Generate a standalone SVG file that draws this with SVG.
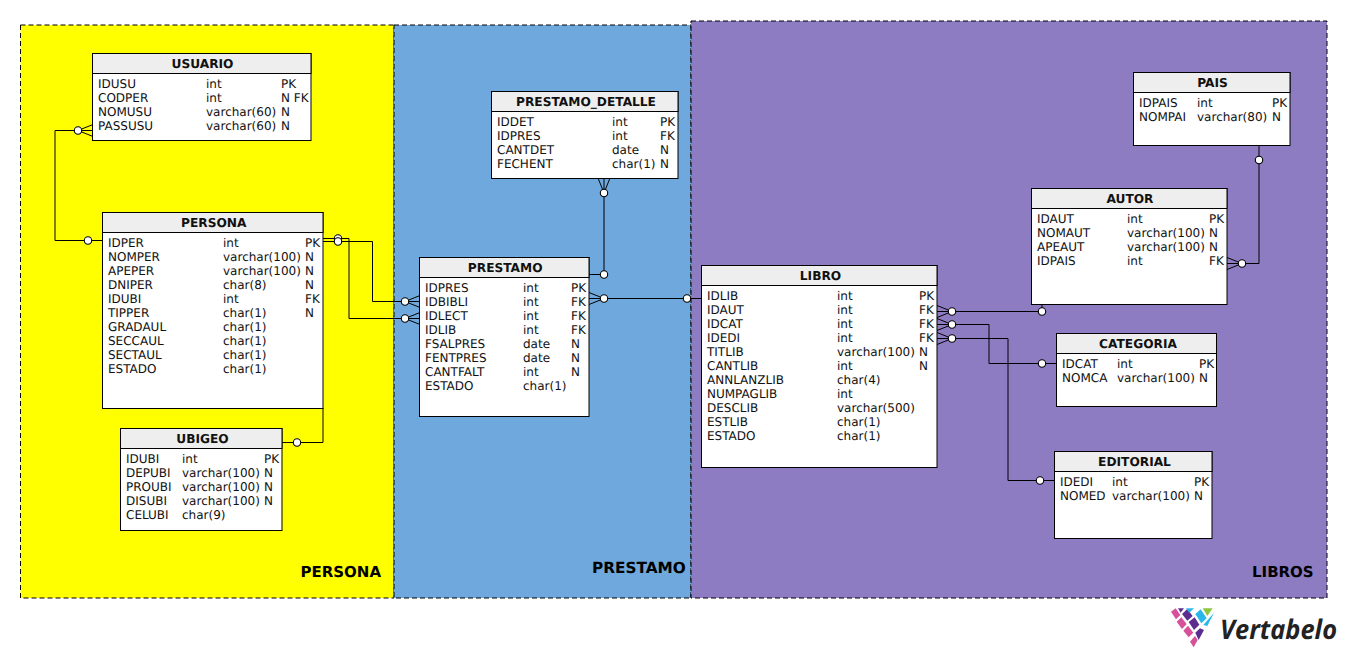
<svg xmlns="http://www.w3.org/2000/svg" width="1347" height="658" viewBox="0 0 1347 658">
<style>
text{font-family:"DejaVu Sans",sans-serif;font-size:12px;fill:#111;text-rendering:geometricPrecision}
.t{font-weight:bold;text-anchor:middle;font-size:12.2px}
.r{font-weight:bold;font-size:15px;fill:#000}
.b{fill:#fff;stroke:#000;stroke-width:1}
.h{fill:#eee;stroke:#000;stroke-width:1}
.reg{stroke:#000;stroke-width:1;stroke-dasharray:5 3}
#connectors path{fill:none;stroke:#000;stroke-width:1}
#connectors circle{fill:#fff;stroke:#000;stroke-width:1.1;r:3.7px}
</style>
<rect fill="#fff" width="1347" height="658"/>
<g id="region-persona"><rect class="reg" x="20.500" y="25" width="373.500" height="573" fill="#ffff00"/><text class="r" x="300.500" y="577">PERSONA</text></g>
<g id="region-prestamo"><rect class="reg" x="394" y="25" width="297" height="573" fill="#6fa8dc"/><text class="r" x="592" y="573" style="font-size:15.3px">PRESTAMO</text></g>
<g id="region-libros"><rect class="reg" x="691" y="21" width="636" height="577" fill="#8e7cc3"/><text class="r" x="1252" y="577">LIBROS</text></g>

<g id="connectors">
<path d="M93 124.500L78 130.500L93 136.500M93 130.500H55V240.500H103"/><circle cx="78" cy="130.500" r="3.700"/><circle cx="88" cy="240.500" r="3.700"/>
<path d="M323 238.500H349V318.500H420M405 318.500L420 312.500M405 318.500L420 324.500"/><circle cx="338" cy="238.500" r="3.700"/><circle cx="405" cy="318.500" r="3.700"/>
<path d="M323 241.500H372.500V301.500H420M405 301.500L420 295.500M405 301.500L420 307.500"/><circle cx="338" cy="241.500" r="3.700"/><circle cx="405" cy="301.500" r="3.700"/>
<path d="M282 442.500H323V408"/><circle cx="297" cy="442.500" r="3.700"/>
<path d="M598 178L604 193L610 178M604 178V274.500H589"/><circle cx="604" cy="193" r="3.700"/><circle cx="604" cy="274.500" r="3.700"/>
<path d="M589 292.500L604 298.500L589 304.500M589 298.500H702"/><circle cx="604" cy="298.500" r="3.700"/><circle cx="687" cy="298.500" r="3.700"/>
<path d="M937 305.500L952 311.500L937 317.500M937 311.500H1042V304"/><circle cx="952" cy="311.500" r="3.700"/><circle cx="1042" cy="311.500" r="3.700"/>
<path d="M937 318.500L952 324.500L937 330.500M937 324.500H989V363.500H1057"/><circle cx="952" cy="324.500" r="3.700"/><circle cx="1042" cy="363.500" r="3.700"/>
<path d="M937 332.500L952 338.500L937 344.500M937 338.500H1008V480.500H1055"/><circle cx="952" cy="338.500" r="3.700"/><circle cx="1040" cy="480.500" r="3.700"/>
<path d="M1227 257.500L1242 263.500L1227 269.500M1227 263.500H1259V145"/><circle cx="1259" cy="160" r="3.700"/><circle cx="1242" cy="263.500" r="3.700"/>
</g>

<g id="usuario"><rect class="b" x="92.500" y="53.500" width="218.500" height="87"/><rect class="h" x="92.500" y="53.500" width="218.500" height="20"/><text class="t" x="202.500" y="67.500">USUARIO</text>
<text x="98" y="87.500">IDUSU</text><text x="206" y="87.500">int</text><text x="281" y="87.500">PK</text>
<text x="98" y="101.500">CODPER</text><text x="206" y="101.500">int</text><text x="281" y="101.500">N FK</text>
<text x="98" y="115.500">NOMUSU</text><text x="206" y="115.500">varchar(60)</text><text x="281" y="115.500">N</text>
<text x="98" y="129.500">PASSUSU</text><text x="206" y="129.500">varchar(60)</text><text x="281" y="129.500">N</text></g>

<g id="persona"><rect class="b" x="102.500" y="212.500" width="220.500" height="196"/><rect class="h" x="102.500" y="212.500" width="220.500" height="20"/><text class="t" x="213.800" y="226.500">PERSONA</text>
<text x="108" y="246.500">IDPER</text><text x="223" y="246.500">int</text><text x="305" y="246.500">PK</text>
<text x="108" y="260.500">NOMPER</text><text x="223" y="260.500">varchar(100)</text><text x="305" y="260.500">N</text>
<text x="108" y="274.500">APEPER</text><text x="223" y="274.500">varchar(100)</text><text x="305" y="274.500">N</text>
<text x="108" y="288.500">DNIPER</text><text x="223" y="288.500">char(8)</text><text x="305" y="288.500">N</text>
<text x="108" y="302.500">IDUBI</text><text x="223" y="302.500">int</text><text x="305" y="302.500">FK</text>
<text x="108" y="316.500">TIPPER</text><text x="223" y="316.500">char(1)</text><text x="305" y="316.500">N</text>
<text x="108" y="330.500">GRADAUL</text><text x="223" y="330.500">char(1)</text>
<text x="108" y="344.500">SECCAUL</text><text x="223" y="344.500">char(1)</text>
<text x="108" y="358.500">SECTAUL</text><text x="223" y="358.500">char(1)</text>
<text x="108" y="372.500">ESTADO</text><text x="223" y="372.500">char(1)</text></g>

<g id="ubigeo"><rect class="b" x="120.500" y="428.500" width="161.500" height="102"/><rect class="h" x="120.500" y="428.500" width="161.500" height="20"/><text class="t" x="202.500" y="442.500">UBIGEO</text>
<text x="126" y="462.500">IDUBI</text><text x="182" y="462.500">int</text><text x="264" y="462.500">PK</text>
<text x="126" y="476.500">DEPUBI</text><text x="182" y="476.500">varchar(100)</text><text x="264" y="476.500">N</text>
<text x="126" y="490.500">PROUBI</text><text x="182" y="490.500">varchar(100)</text><text x="264" y="490.500">N</text>
<text x="126" y="504.500">DISUBI</text><text x="182" y="504.500">varchar(100)</text><text x="264" y="504.500">N</text>
<text x="126" y="518.500">CELUBI</text><text x="182" y="518.500">char(9)</text></g>

<g id="prestamo_detalle"><rect class="b" x="491.500" y="91.500" width="186.500" height="87"/><rect class="h" x="491.500" y="91.500" width="186.500" height="20"/><text class="t" x="586" y="105.500">PRESTAMO_DETALLE</text>
<text x="497" y="125.500">IDDET</text><text x="612" y="125.500">int</text><text x="660" y="125.500">PK</text>
<text x="497" y="139.500">IDPRES</text><text x="612" y="139.500">int</text><text x="660" y="139.500">FK</text>
<text x="497" y="153.500">CANTDET</text><text x="612" y="153.500">date</text><text x="660" y="153.500">N</text>
<text x="497" y="167.500">FECHENT</text><text x="612" y="167.500">char(1)</text><text x="660" y="167.500">N</text></g>

<g id="prestamo"><rect class="b" x="419.500" y="257.500" width="169.500" height="159"/><rect class="h" x="419.500" y="257.500" width="169.500" height="20"/><text class="t" x="505.200" y="271.500">PRESTAMO</text>
<text x="425" y="291.500">IDPRES</text><text x="523" y="291.500">int</text><text x="571" y="291.500">PK</text>
<text x="425" y="305.500">IDBIBLI</text><text x="523" y="305.500">int</text><text x="571" y="305.500">FK</text>
<text x="425" y="319.500">IDLECT</text><text x="523" y="319.500">int</text><text x="571" y="319.500">FK</text>
<text x="425" y="333.500">IDLIB</text><text x="523" y="333.500">int</text><text x="571" y="333.500">FK</text>
<text x="425" y="347.500">FSALPRES</text><text x="523" y="347.500">date</text><text x="571" y="347.500">N</text>
<text x="425" y="361.500">FENTPRES</text><text x="523" y="361.500">date</text><text x="571" y="361.500">N</text>
<text x="425" y="375.500">CANTFALT</text><text x="523" y="375.500">int</text><text x="571" y="375.500">N</text>
<text x="425" y="389.500">ESTADO</text><text x="523" y="389.500">char(1)</text></g>

<g id="libro"><rect class="b" x="701.500" y="265.500" width="235.500" height="202"/><rect class="h" x="701.500" y="265.500" width="235.500" height="20"/><text class="t" x="820.500" y="279.500">LIBRO</text>
<text x="707" y="299.500">IDLIB</text><text x="837" y="299.500">int</text><text x="919" y="299.500">PK</text>
<text x="707" y="313.500">IDAUT</text><text x="837" y="313.500">int</text><text x="919" y="313.500">FK</text>
<text x="707" y="327.500">IDCAT</text><text x="837" y="327.500">int</text><text x="919" y="327.500">FK</text>
<text x="707" y="341.500">IDEDI</text><text x="837" y="341.500">int</text><text x="919" y="341.500">FK</text>
<text x="707" y="355.500">TITLIB</text><text x="837" y="355.500">varchar(100)</text><text x="919" y="355.500">N</text>
<text x="707" y="369.500">CANTLIB</text><text x="837" y="369.500">int</text><text x="919" y="369.500">N</text>
<text x="707" y="383.500">ANNLANZLIB</text><text x="837" y="383.500">char(4)</text>
<text x="707" y="397.500">NUMPAGLIB</text><text x="837" y="397.500">int</text>
<text x="707" y="411.500">DESCLIB</text><text x="837" y="411.500">varchar(500)</text>
<text x="707" y="425.500">ESTLIB</text><text x="837" y="425.500">char(1)</text>
<text x="707" y="439.500">ESTADO</text><text x="837" y="439.500">char(1)</text></g>

<g id="pais"><rect class="b" x="1133.500" y="72.500" width="156.500" height="73"/><rect class="h" x="1133.500" y="72.500" width="156.500" height="20"/><text class="t" x="1212.500" y="86.500">PAIS</text>
<text x="1139" y="106.500">IDPAIS</text><text x="1197" y="106.500">int</text><text x="1272" y="106.500">PK</text>
<text x="1139" y="120.500">NOMPAI</text><text x="1197" y="120.500">varchar(80)</text><text x="1272" y="120.500">N</text></g>

<g id="autor"><rect class="b" x="1031.500" y="188.500" width="195.500" height="116"/><rect class="h" x="1031.500" y="188.500" width="195.500" height="20"/><text class="t" x="1130" y="202.500">AUTOR</text>
<text x="1037" y="222.500">IDAUT</text><text x="1127" y="222.500">int</text><text x="1209" y="222.500">PK</text>
<text x="1037" y="236.500">NOMAUT</text><text x="1127" y="236.500">varchar(100)</text><text x="1209" y="236.500">N</text>
<text x="1037" y="250.500">APEAUT</text><text x="1127" y="250.500">varchar(100)</text><text x="1209" y="250.500">N</text>
<text x="1037" y="264.500">IDPAIS</text><text x="1127" y="264.500">int</text><text x="1209" y="264.500">FK</text></g>

<g id="categoria"><rect class="b" x="1056.500" y="333.500" width="160" height="73"/><rect class="h" x="1056.500" y="333.500" width="160" height="20"/><text class="t" x="1138" y="347.500">CATEGORIA</text>
<text x="1062" y="367.500">IDCAT</text><text x="1117" y="367.500">int</text><text x="1199" y="367.500">PK</text>
<text x="1062" y="381.500">NOMCA</text><text x="1117" y="381.500">varchar(100)</text><text x="1199" y="381.500">N</text></g>

<g id="editorial"><rect class="b" x="1054.500" y="451.500" width="157.500" height="87"/><rect class="h" x="1054.500" y="451.500" width="157.500" height="20"/><text class="t" x="1134.500" y="465.500">EDITORIAL</text>
<text x="1060" y="485.500">IDEDI</text><text x="1112" y="485.500">int</text><text x="1194" y="485.500">PK</text>
<text x="1060" y="499.500">NOMED</text><text x="1112" y="499.500">varchar(100)</text><text x="1194" y="499.500">N</text></g>

<g id="logo">
<g transform="translate(1150 590) scale(.3333)">
<polygon fill="#d6509a" points="63,65 77,55 91,75 78,88"/>
<polygon fill="#5c2d91" points="84,55 102,55 92,68"/>
<polygon fill="#5c2d91" points="96,72 112,57 128,78 112,92"/>
<polygon fill="#29b6e8" points="108,55 132,55 118,68"/>
<polygon fill="#d6509a" points="80,95 94,82 110,102 96,117"/>
<polygon fill="#5c2d91" points="116,96 134,82 148,104 132,120"/>
<polygon fill="#29b6e8" points="136,72 152,58 170,85 154,100"/>
<polygon fill="#8dc63f" points="158,55 188,55 172,78"/>
<polygon fill="#29b6e8" points="160,105 192,68 172,108"/>
<polygon fill="#d6509a" points="100,122 114,107 130,128 116,142"/>
<polygon fill="#5c2d91" points="136,128 150,115 162,120 146,150"/>
<polygon fill="#d6509a" points="120,155 135,138 143,150 131,172"/>
</g>
<text x="1220" y="638.500" textLength="117" lengthAdjust="spacingAndGlyphs" style="font-family:'Open Sans',sans-serif;font-size:27px;font-style:italic;font-weight:700;fill:#222">Vertabelo</text>
</g>
</svg>
